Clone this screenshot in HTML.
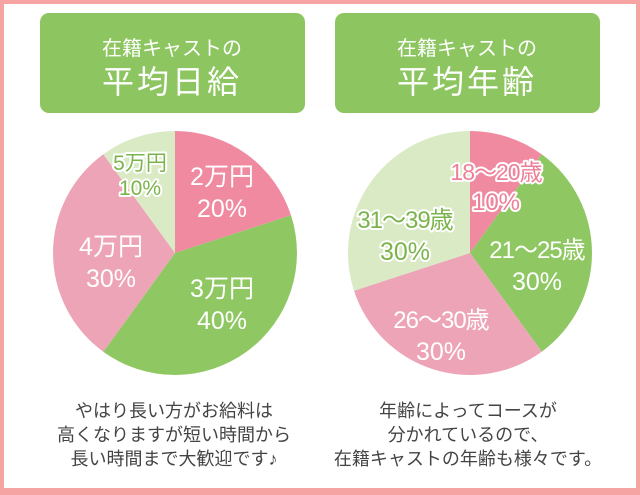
<!DOCTYPE html>
<html><head><meta charset="utf-8"><style>
html,body{margin:0;padding:0;background:#fff}
svg{display:block}
text{font-family:"Liberation Sans","Noto Sans CJK JP",sans-serif}
</style></head><body>
<svg width="640" height="495" viewBox="0 0 640 495" xmlns="http://www.w3.org/2000/svg">
<rect x="0" y="0" width="640" height="495" fill="#f5a3a3"/>
<rect x="4" y="4" width="632" height="484" fill="#fff"/>
<rect x="40" y="13" width="265" height="100" rx="9" fill="#8dc661"/>
<rect x="335" y="13" width="265" height="100" rx="9" fill="#8dc661"/>
<g fill="#fff" text-anchor="middle">
<text x="172" y="55" font-size="20">在籍キャストの</text>
<text x="172" y="93" font-size="32" letter-spacing="3">平均日給</text>
<text x="467" y="55" font-size="20">在籍キャストの</text>
<text x="467" y="93" font-size="32" letter-spacing="3">平均年齢</text>
</g>
<path d="M175,253 L175,131 A122,122 0 0 1 291,215.3 Z" fill="#ef8aa1"/>
<path d="M175,253 L291,215.3 A122,122 0 0 1 103.3,351.7 Z" fill="#8fc862"/>
<path d="M175,253 L103.3,351.7 A122,122 0 0 1 103.3,154.3 Z" fill="#eda4b7"/>
<path d="M175,253 L103.3,154.3 A122,122 0 0 1 175,131 Z" fill="#d9eac5"/>
<path d="M470,253 L470,131 A122,122 0 0 1 541.7,154.3 Z" fill="#ef8aa1"/>
<path d="M470,253 L541.7,154.3 A122,122 0 0 1 541.7,351.7 Z" fill="#8fc862"/>
<path d="M470,253 L541.7,351.7 A122,122 0 0 1 354,290.7 Z" fill="#eda4b7"/>
<path d="M470,253 L354,290.7 A122,122 0 0 1 470,131 Z" fill="#d9eac5"/>
<g fill="#fff" text-anchor="middle" font-size="25">
<text x="222" y="185">2万円</text><text x="222" y="217">20%</text>
<text x="222" y="297">3万円</text><text x="222" y="329">40%</text>
<text x="111" y="255">4万円</text><text x="111" y="287">30%</text>
<text x="537" y="258" font-size="24" letter-spacing="-1">21〜25歳</text><text x="537" y="290">30%</text>
<text x="441" y="328" font-size="24" letter-spacing="-1">26〜30歳</text><text x="441" y="360">30%</text>
</g>
<g text-anchor="middle" stroke="#fff" stroke-width="4" paint-order="stroke" stroke-linejoin="round">
<g fill="#7bb34c" font-size="21">
<text x="140" y="170">5万円</text><text x="140" y="195">10%</text>
</g>
<g fill="#7bb34c" font-size="24">
<text x="405" y="228" letter-spacing="-1">31〜39歳</text><text x="405" y="260" font-size="25">30%</text>
</g>
<g fill="#ee7f98" font-size="23">
<text x="496" y="180" letter-spacing="-1">18〜20歳</text><text x="496" y="210" font-size="24">10%</text>
</g>
</g>
<g fill="#444" text-anchor="middle" font-size="18">
<text x="174" y="417">やはり長い方がお給料は</text>
<text x="174" y="441">高くなりますが短い時間から</text>
<text x="174" y="465">長い時間まで大歓迎です♪</text>
<text x="468" y="417">年齢によってコースが</text>
<text x="468" y="441">分かれているので、</text>
<text x="468" y="465">在籍キャストの年齢も様々です。</text>
</g>
</svg>
</body></html>
